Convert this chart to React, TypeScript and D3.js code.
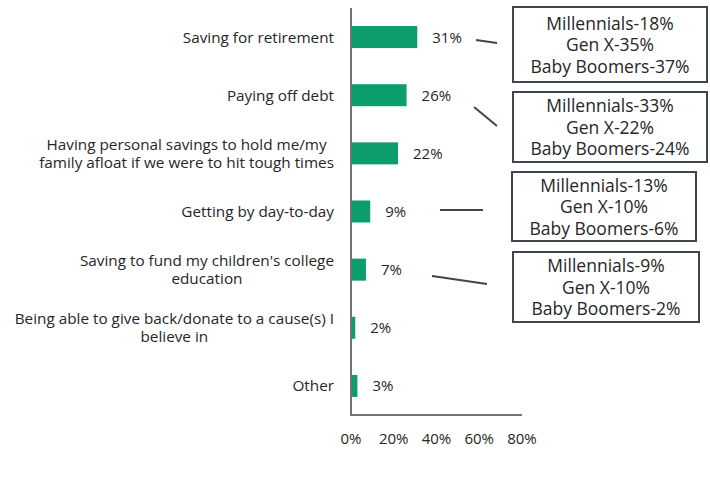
import React, { useEffect, useRef } from "react";
import * as d3 from "d3";

const categories: string[][] = [
  ["Saving for retirement"],
  ["Paying off debt"],
  ["Having personal savings to hold me/my", "family afloat if we were to hit tough times"],
  ["Getting by day-to-day"],
  ["Saving to fund my children's college", "education"],
  ["Being able to give back/donate to a cause(s) I", "believe in"],
  ["Other"],
];
const values = [31, 26, 22, 9, 7, 2, 3];
const ticks = [0, 20, 40, 60, 80];

const calloutRows = [0, 1, 3, 4];
const calloutTexts: string[][] = [
  ["Millennials-18%", "Gen X-35%", "Baby Boomers-37%"],
  ["Millennials-33%", "Gen X-22%", "Baby Boomers-24%"],
  ["Millennials-13%", "Gen X-10%", "Baby Boomers-6%"],
  ["Millennials-9%", "Gen X-10%", "Baby Boomers-2%"],
];

// layout
const W = 710;
const H = 482;
const FONT = "'Open Sans', sans-serif";
const TEXT = "#262626";
const BAR = "#0b9d6a";
const AXIS = "#6e7378";
const BOX = "#3f464d";
const boxes = [
  { x: 513, y: 7, w: 194, h: 75, lx1: 476, ly1: 40, lx2: 497, ly2: 43 },
  { x: 513, y: 92, w: 194, h: 70, lx1: 474, ly1: 107, lx2: 497, ly2: 126 },
  { x: 512, y: 172, w: 184, h: 69, lx1: 440, ly1: 210, lx2: 483, ly2: 210 },
  { x: 513, y: 252, w: 186, h: 70, lx1: 432, ly1: 276, lx2: 487, ly2: 284 },
];

export default function App() {
  const ref = useRef<SVGSVGElement | null>(null);

  useEffect(() => {
    const svg = d3.select(ref.current);
    svg.selectAll("*").remove();

    const x = d3.scaleLinear().domain([0, 80]).range([351, 522]);
    const y = d3
      .scaleBand<number>()
      .domain(d3.range(categories.length))
      .range([8, 415])
      .paddingInner(0.62)
      .paddingOuter(0.31);
    const step = y.step();
    const rowCenter = (i: number) => 8 + step * i + step / 2;

    // bars
    svg
      .selectAll("rect.bar")
      .data(values)
      .enter()
      .append("rect")
      .attr("class", "bar")
      .attr("x", x(0))
      .attr("y", (_, i) => rowCenter(i) - 11)
      .attr("width", (d) => x(d) - x(0))
      .attr("height", 22)
      .attr("fill", BAR);

    // value labels
    svg
      .selectAll("text.val")
      .data(values)
      .enter()
      .append("text")
      .attr("class", "val")
      .attr("x", (d) => x(d) + 15)
      .attr("y", (_, i) => rowCenter(i) + 5.5)
      .attr("font-family", FONT)
      .attr("font-size", 15)
      .attr("fill", TEXT)
      .text((d) => `${d}%`);

    // axes lines
    svg
      .append("line")
      .attr("x1", x(0))
      .attr("x2", x(0))
      .attr("y1", 8)
      .attr("y2", 415)
      .attr("stroke", AXIS)
      .attr("stroke-width", 2);
    svg
      .append("line")
      .attr("x1", x(0) - 1)
      .attr("x2", x(80))
      .attr("y1", 415)
      .attr("y2", 415)
      .attr("stroke", AXIS)
      .attr("stroke-width", 2);

    // tick labels
    svg
      .selectAll("text.tick")
      .data(ticks)
      .enter()
      .append("text")
      .attr("class", "tick")
      .attr("x", (d) => x(d))
      .attr("y", 443.5)
      .attr("text-anchor", "middle")
      .attr("font-family", FONT)
      .attr("font-size", 15)
      .attr("fill", TEXT)
      .text((d) => `${d}%`);

    // category labels
    const right = 334;
    categories.forEach((lines, i) => {
      const g = svg.append("g");
      const texts = lines.map((l, j) =>
        g
          .append("text")
          .attr("y", rowCenter(i) + 5.5 + (j - (lines.length - 1) / 2) * 18)
          .attr("font-family", FONT)
          .attr("font-size", 15.3)
          .attr("fill", TEXT)
          .text(l)
      );
      if (lines.length === 1) {
        texts[0].attr("x", right).attr("text-anchor", "end");
      } else {
        const maxW = d3.max(texts, (t) => (t.node() as SVGTextElement).getComputedTextLength()) || 0;
        texts.forEach((t) => t.attr("x", right - maxW / 2).attr("text-anchor", "middle"));
      }
    });

    // callouts
    calloutRows.forEach((_, k) => {
      const b = boxes[k];
      svg
        .append("line")
        .attr("x1", b.lx1)
        .attr("y1", b.ly1)
        .attr("x2", b.lx2)
        .attr("y2", b.ly2)
        .attr("stroke", BOX)
        .attr("stroke-width", 2);
      svg
        .append("rect")
        .attr("x", b.x)
        .attr("y", b.y)
        .attr("width", b.w)
        .attr("height", b.h)
        .attr("fill", "white")
        .attr("stroke", BOX)
        .attr("stroke-width", 2);
      const cy = b.y + b.h / 2;
      calloutTexts[k].forEach((t, j) => {
        svg
          .append("text")
          .attr("x", b.x + b.w / 2)
          .attr("y", cy + 6.5 + (j - 1) * 21.5)
          .attr("text-anchor", "middle")
          .attr("font-family", FONT)
          .attr("font-size", 17.5)
          .attr("fill", TEXT)
          .text(t);
      });
    });
  }, []);

  return (
    <svg
      ref={ref}
      width={W}
      height={H}
      style={{ position: "absolute", left: 0, top: 0, background: "white" }}
    />
  );
}
